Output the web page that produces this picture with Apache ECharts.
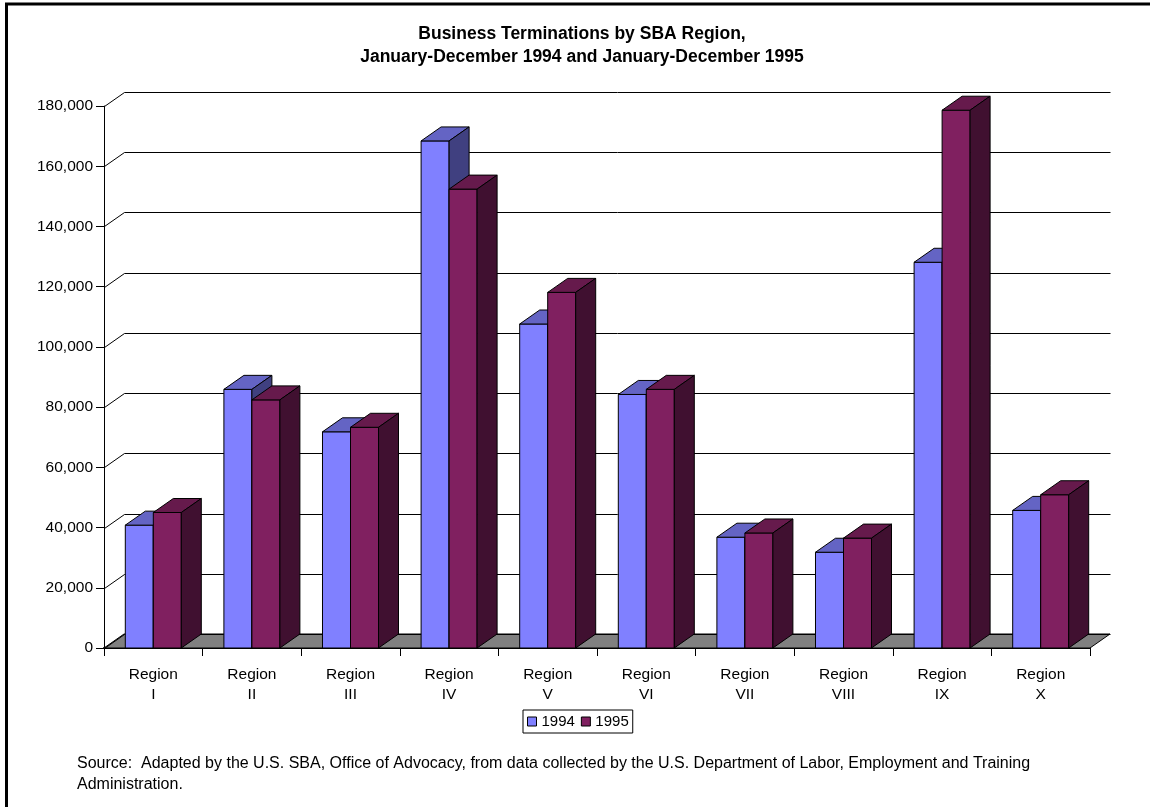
<!DOCTYPE html>
<html>
<head>
<meta charset="utf-8">
<script src="https://cdn.jsdelivr.net/npm/echarts@6/dist/echarts.min.js"></script>
<style>
html,body{margin:0;padding:0;background:#fff;}
#chart{width:1150px;height:807px;}
</style>
</head>
<body>
<div id="chart"></div>
<script>
const categories = ['Region\nI','Region\nII','Region\nIII','Region\nIV','Region\nV','Region\nVI','Region\nVII','Region\nVIII','Region\nIX','Region\nX'];
const values1994 = [40800, 85900, 71800, 168400, 107600, 84200, 36800, 31800, 128100, 45700];
const values1995 = [45000, 82400, 73300, 152400, 118100, 85900, 38200, 36500, 178600, 50900];
const yTicks = [0, 20000, 40000, 60000, 80000, 100000, 120000, 140000, 160000, 180000];
const seriesNames = ['1994', '1995'];
const titleLines = ['Business Terminations by SBA Region,', 'January-December 1994 and January-December 1995'];
const sourceLines = ['Source:  Adapted by the U.S. SBA, Office of Advocacy, from data collected by the U.S. Department of Labor, Employment and Training', 'Administration.'];

const FONT = "'Liberation Sans', Arial, sans-serif";
const DX = 20, DY = 14, BAR_FRAC = 0.284;
const palette = [
  {front: '#8080FF', top: '#6464C4', side: '#404080'},
  {front: '#802060', top: '#661A4C', side: '#401030'}
];

function barRender(sIdx) {
  const c = palette[sIdx];
  return function (params, api) {
    const ci = api.value(0), v = api.value(1);
    const top = api.coord([ci, v]);
    const base = api.coord([ci, 0]);
    const band = api.size([1, 0])[0];
    const w = band * BAR_FRAC;
    const x0 = top[0] - w + sIdx * w, x1 = x0 + w;
    const yt = top[1], yb = base[1];
    return {
      type: 'group',
      children: [
        {type: 'polygon', shape: {points: [[x0, yt], [x1, yt], [x1, yb], [x0, yb]]}, style: {fill: c.front, stroke: '#000', lineWidth: 1}},
        {type: 'polygon', shape: {points: [[x0, yt], [x0 + DX, yt - DY], [x1 + DX, yt - DY], [x1, yt]]}, style: {fill: c.top, stroke: '#000', lineWidth: 1}},
        {type: 'polygon', shape: {points: [[x1, yt], [x1 + DX, yt - DY], [x1 + DX, yb - DY], [x1, yb]]}, style: {fill: c.side, stroke: '#000', lineWidth: 1}}
      ]
    };
  };
}

function wallRender(params, api) {
  const v = api.value(1);
  const band = api.size([1, 0])[0];
  const p0 = api.coord([0, v]);
  const pN = api.coord([categories.length - 1, v]);
  const xl = Math.round(p0[0] - band / 2) + 0.5;
  const xr = Math.round(pN[0] + band / 2) + 0.5;
  const y = Math.round(p0[1]) + 0.5;
  return {
    type: 'polyline',
    shape: {points: [[xl, y], [xl + DX, y - DY], [xr + DX, y - DY]]},
    style: {stroke: '#000', lineWidth: 1, fill: null}
  };
}

function floorRender(params, api) {
  const band = api.size([1, 0])[0];
  const p0 = api.coord([0, 0]);
  const pN = api.coord([categories.length - 1, 0]);
  const xl = p0[0] - band / 2, xr = pN[0] + band / 2, y = p0[1];
  return {
    type: 'polygon',
    shape: {points: [[xl, y], [xl + DX, y - DY], [xr + DX, y - DY], [xr, y]]},
    style: {fill: '#808080', stroke: '#000', lineWidth: 1}
  };
}

const chart = echarts.init(document.getElementById('chart'), null, {renderer: 'canvas'});
chart.setOption({
  animation: false,
  backgroundColor: '#fff',
  textStyle: {fontFamily: FONT},
  grid: {left: 104, right: 60, top: 106, bottom: 159, containLabel: false},
  legend: {
    data: [
      {name: seriesNames[0], itemStyle: {color: palette[0].front, borderColor: '#000', borderWidth: 1}},
      {name: seriesNames[1], itemStyle: {color: palette[1].front, borderColor: '#000', borderWidth: 1}}
    ],
    left: 523, top: 710,
    icon: 'rect', itemWidth: 9, itemHeight: 9, itemGap: 6,
    padding: [4, 4, 4, 4],
    borderColor: '#000', borderWidth: 1, backgroundColor: '#fff',
    textStyle: {fontFamily: FONT, fontSize: 15, color: '#000'},
    selectedMode: false
  },
  xAxis: {
    type: 'category',
    data: categories,
    boundaryGap: true,
    axisLine: {lineStyle: {color: '#000', width: 2}},
    axisTick: {show: true, length: 8, alignWithLabel: false, lineStyle: {color: '#000', width: 1}},
    axisLabel: {interval: 0, fontFamily: FONT, fontSize: 15.5, lineHeight: 20, margin: 17, color: '#000'},
    splitLine: {show: false}
  },
  yAxis: {
    type: 'value',
    min: 0, max: 180000, interval: 20000,
    axisLine: {show: true, lineStyle: {color: '#000', width: 1}},
    axisTick: {show: true, length: 8, lineStyle: {color: '#000', width: 1}},
    axisLabel: {fontFamily: FONT, fontSize: 15.5, margin: 11, color: '#000',
      formatter: function (v) { return v.toLocaleString('en-US'); }},
    splitLine: {show: false}
  },
  graphic: [
    {type: 'rect', z: -10, shape: {x: 6.5, y: 4, width: 1200, height: 900}, style: {fill: null, stroke: '#000', lineWidth: 3}},
    {type: 'text', x: 582, y: 34, style: {text: titleLines[0], font: "bold 17.5px " + FONT, fill: '#000', textAlign: 'center', textVerticalAlign: 'middle'}},
    {type: 'text', x: 582, y: 57.5, style: {text: titleLines[1], font: "bold 17.5px " + FONT, fill: '#000', textAlign: 'center', textVerticalAlign: 'middle'}},
    {type: 'text', x: 77, y: 764, style: {text: sourceLines[0], font: "16px " + FONT, fill: '#000', textAlign: 'left', textVerticalAlign: 'middle'}},
    {type: 'text', x: 77, y: 785, style: {text: sourceLines[1], font: "16px " + FONT, fill: '#000', textAlign: 'left', textVerticalAlign: 'middle'}}
  ],
  series: [
    {type: 'custom', name: 'floor', renderItem: floorRender, data: [[0, 0]], encode: {x: 0, y: 1}, silent: true, z: 1},
    {type: 'custom', name: 'wall', renderItem: wallRender, data: yTicks.map(v => [0, v]), encode: {x: 0, y: 1}, silent: true, z: 1},
    {type: 'custom', name: seriesNames[0], renderItem: barRender(0), data: values1994.map((v, i) => [i, v]), encode: {x: 0, y: 1},
      itemStyle: {color: palette[0].front, borderColor: '#000', borderWidth: 1}, z: 3},
    {type: 'custom', name: seriesNames[1], renderItem: barRender(1), data: values1995.map((v, i) => [i, v]), encode: {x: 0, y: 1},
      itemStyle: {color: palette[1].front, borderColor: '#000', borderWidth: 1}, z: 3}
  ]
});
</script>
</body>
</html>
